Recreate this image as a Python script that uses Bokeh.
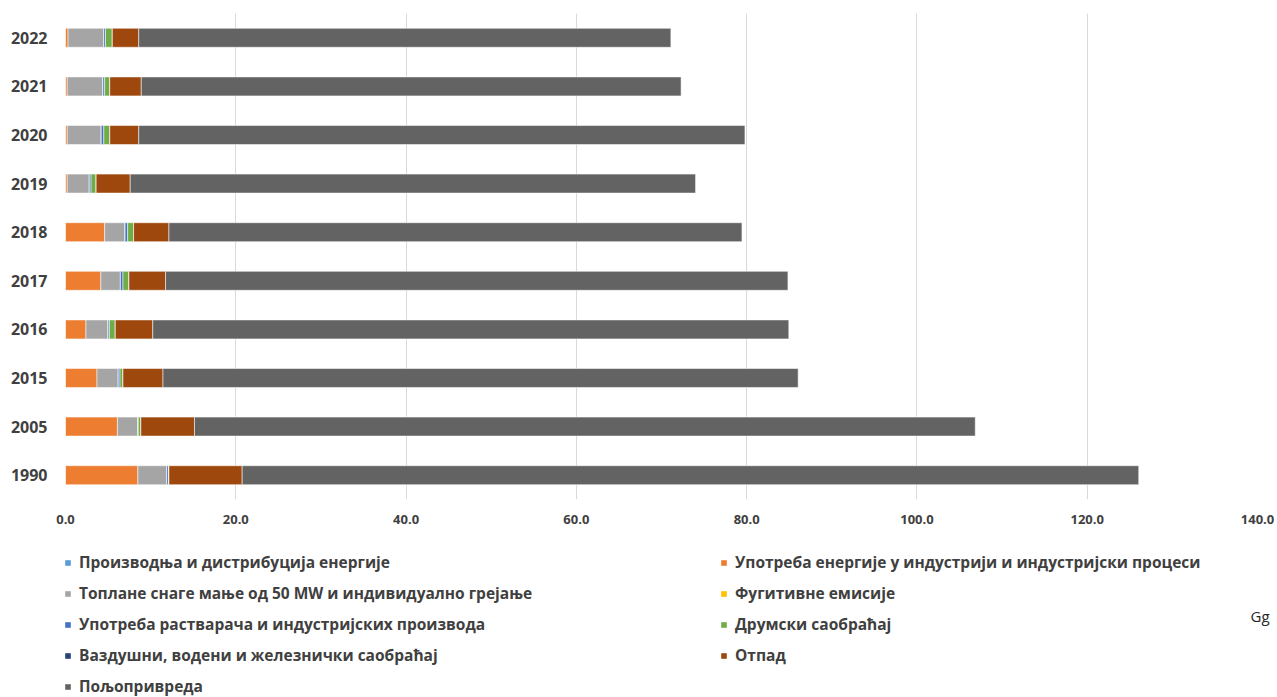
from bokeh.plotting import figure
from bokeh.models import (ColumnDataSource, Legend, LegendItem, Label, FixedTicker,
                          NumeralTickFormatter, Range1d)
from bokeh.embed import file_html
from bokeh.resources import INLINE

years = ["1990", "2005", "2015", "2016", "2017", "2018", "2019", "2020", "2021", "2022"]
energy_prod = [0.0, 0.0, 0.0, 0.0, 0.0, 0.0, 0.0, 0.0, 0.0, 0.0]
industry = [8.5, 6.1, 3.7, 2.4, 4.15, 4.6, 0.2, 0.2, 0.2, 0.3]
heating = [3.4, 2.4, 2.5, 2.6, 2.3, 2.4, 2.6, 4.0, 4.2, 4.2]
fugitive = [0.0, 0.0, 0.0, 0.0, 0.0, 0.0, 0.0, 0.0, 0.0, 0.0]
solvents = [0.2, 0.05, 0.2, 0.15, 0.3, 0.3, 0.2, 0.3, 0.2, 0.2]
road = [0.05, 0.3, 0.35, 0.7, 0.7, 0.7, 0.6, 0.7, 0.6, 0.8]
air_water_rail = [0.0, 0.0, 0.0, 0.0, 0.0, 0.0, 0.0, 0.0, 0.0, 0.0]
waste = [8.6, 6.3, 4.7, 4.4, 4.3, 4.15, 4.0, 3.4, 3.7, 3.1]
agriculture = [105.3, 91.7, 74.6, 74.7, 73.1, 67.3, 66.4, 71.2, 63.4, 62.5]

series_keys = ["energy_prod", "industry", "heating", "fugitive", "solvents",
               "road", "air_water_rail", "waste", "agriculture"]
series_labels = [
    "Производња и дистрибуција енергије",
    "Употреба енергије у индустрији и индустријски процеси",
    "Топлане снаге мање од 50 MW и индивидуално грејање",
    "Фугитивне емисије",
    "Употреба растварача и индустријских производа",
    "Друмски саобраћај",
    "Ваздушни, водени и железнички саобраћај",
    "Отпад",
    "Пољопривреда",
]
series_colors = ["#5B9BD5", "#ED7D31", "#A5A5A5", "#FFC000", "#4472C4",
                 "#70AD47", "#264478", "#9E480E", "#636363"]
x_ticks = [0, 20, 40, 60, 80, 100, 120, 140]
unit_label = "Gg"

data = dict(year=years, energy_prod=energy_prod, industry=industry, heating=heating,
            fugitive=fugitive, solvents=solvents, road=road, air_water_rail=air_water_rail,
            waste=waste, agriculture=agriculture)
source = ColumnDataSource(data)

FONT = "Open Sans"
TXT = "#404040"

# ---- main chart ----
p = figure(width=1277, height=530, y_range=years, x_range=Range1d(0, 140),
           output_backend="svg", toolbar_location=None,
           min_border_left=65, min_border_right=20, min_border_top=13, min_border_bottom=31)
p.outline_line_color = None

renderers = p.hbar_stack(series_keys, y="year", height=0.39, source=source,
                         color=series_colors, line_color="white", line_width=0.75, line_alpha=0.7)

p.xaxis.ticker = FixedTicker(ticks=x_ticks)
p.xaxis.formatter = NumeralTickFormatter(format="0.0")
p.xaxis.axis_line_color = None
p.xaxis.major_tick_line_color = None
p.xaxis.minor_tick_line_color = None
p.xaxis.major_label_standoff = 9
p.xaxis.major_label_text_font = FONT
p.xaxis.major_label_text_font_style = "bold"
p.xaxis.major_label_text_font_size = "13px"
p.xaxis.major_label_text_color = TXT

p.yaxis.axis_line_color = None
p.yaxis.major_tick_line_color = None
p.yaxis.minor_tick_line_color = None
p.yaxis.major_label_standoff = 12
p.yaxis.major_label_text_font = FONT
p.yaxis.major_label_text_font_style = "bold"
p.yaxis.major_label_text_font_size = "16px"
p.yaxis.major_label_text_color = TXT

p.xgrid.grid_line_color = "#D9D9D9"
p.xgrid.grid_line_width = 1
p.ygrid.grid_line_color = None

# ---- legend panel: same series as zero-height stacks (only the legend swatches show) ----
p2 = figure(width=1277, height=167, y_range=years, x_range=Range1d(1000, 1100),
            output_backend="svg", toolbar_location=None,
            x_axis_location=None, y_axis_location=None,
            min_border_left=0, min_border_right=0, min_border_top=0, min_border_bottom=0)
p2.outline_line_color = None
p2.grid.visible = False
leg_renderers = p2.hbar_stack(series_keys, y="year", height=0.0, source=ColumnDataSource(data),
                              color=series_colors, line_color=None)

left_idx = [0, 2, 4, 6, 8]
right_idx = [1, 3, 5, 7]


def make_legend(idx, loc):
    items = [LegendItem(label=series_labels[i], renderers=[leg_renderers[i]]) for i in idx]
    lg = Legend(items=items, location=loc, orientation="vertical")
    lg.glyph_width = 7
    lg.glyph_height = 7
    lg.label_height = 16
    lg.label_standoff = 8
    lg.spacing = 9
    lg.padding = 0
    lg.margin = 0
    lg.border_line_color = None
    lg.background_fill_alpha = 0
    lg.label_text_font = FONT
    lg.label_text_font_style = "bold"
    lg.label_text_font_size = "15.5px"
    lg.label_text_color = TXT
    return lg


p2.add_layout(make_legend(left_idx, (64, 0)))
p2.add_layout(make_legend(right_idx, (720, 31)))

p2.add_layout(Label(x=1250, y=82, x_units="screen", y_units="screen", text=unit_label,
                    text_font=FONT, text_font_size="15px", text_color="#262626",
                    text_baseline="middle", text_align="left"))

open("out.html", "w").write(file_html([p, p2], INLINE))
